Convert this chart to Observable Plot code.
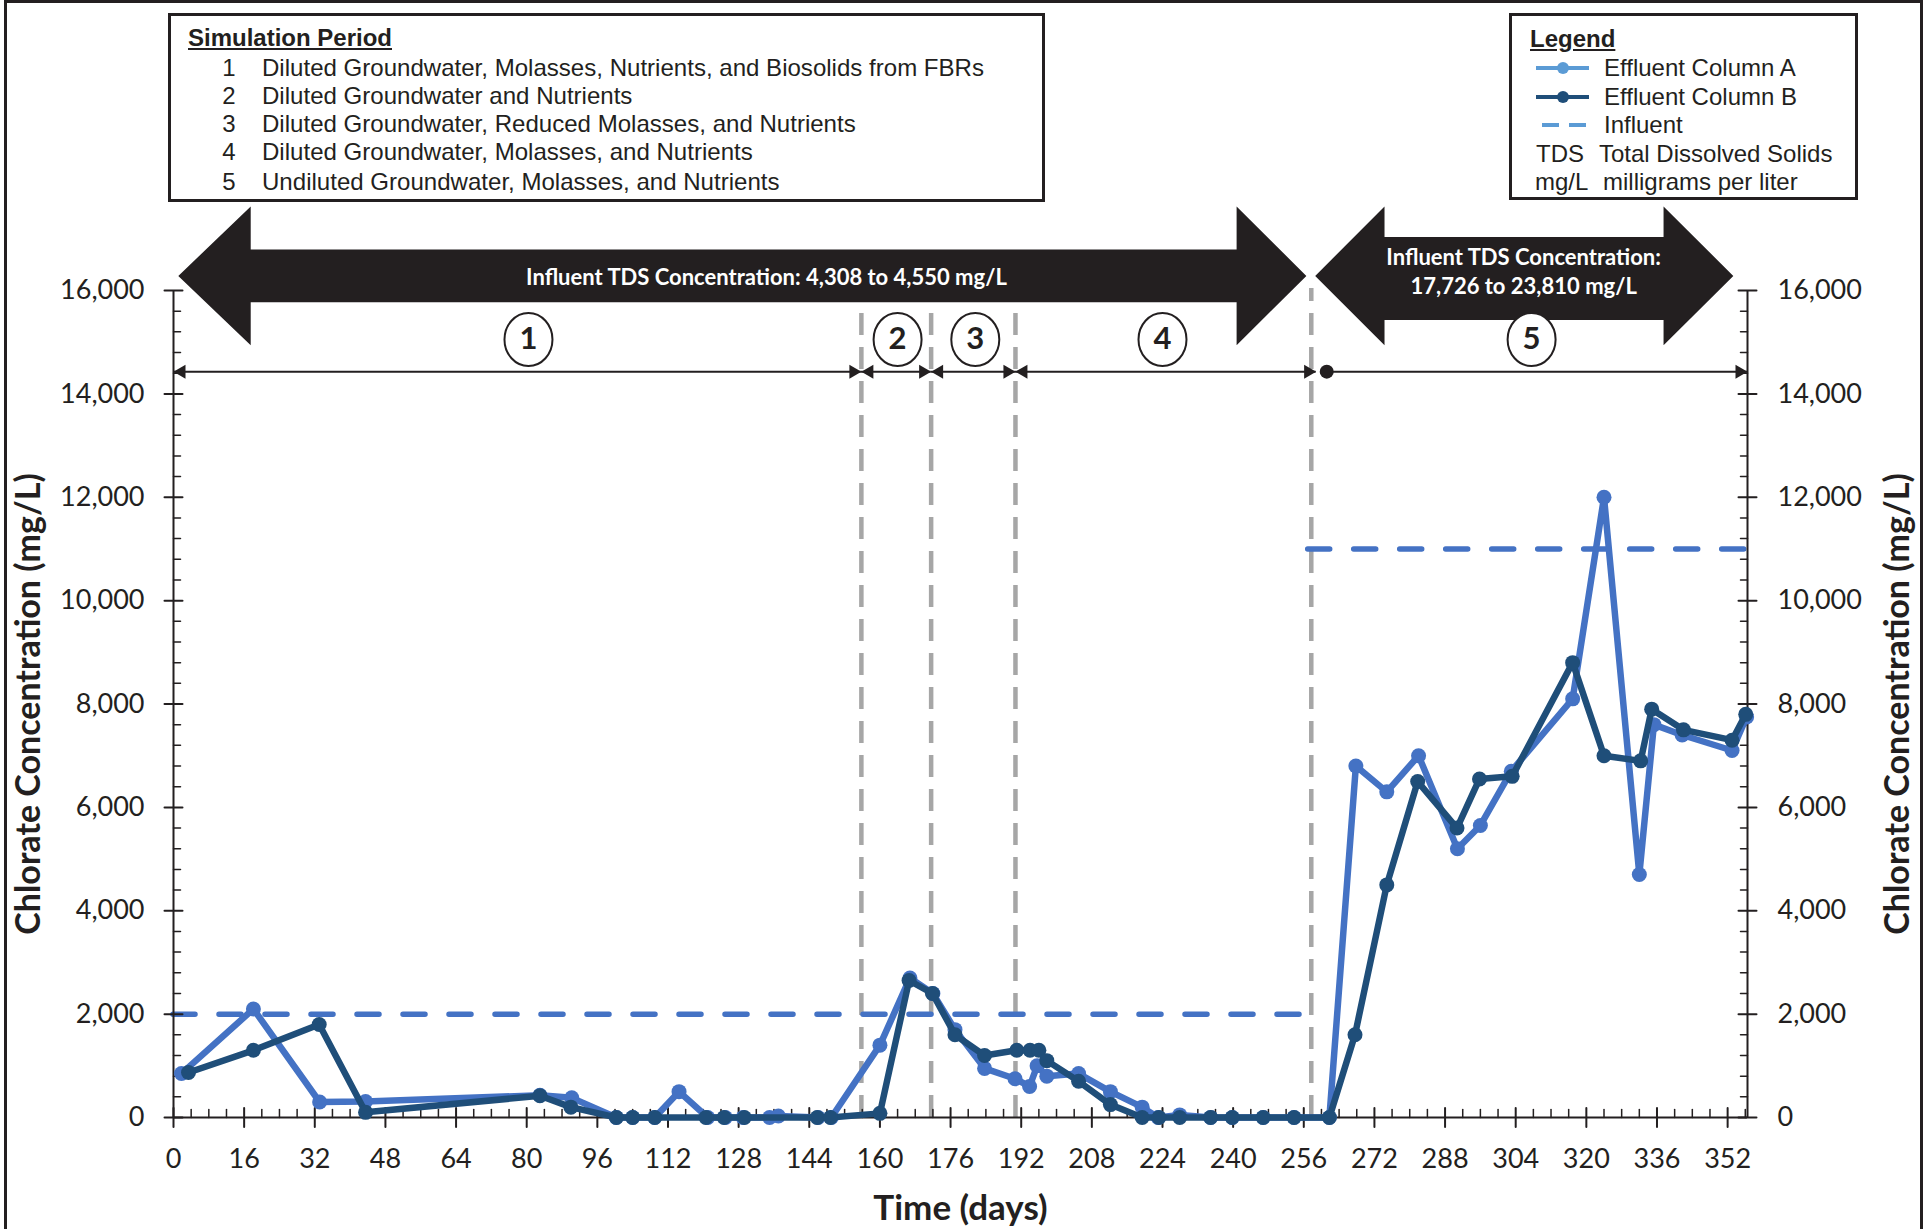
<!DOCTYPE html>
<html>
<head>
<meta charset="utf-8">
<script src="https://cdn.jsdelivr.net/npm/d3@7"></script>
<script src="https://cdn.jsdelivr.net/npm/@observablehq/plot@0.6"></script>
<style>
html,body{margin:0;padding:0;background:#fff;}
#page{position:relative;width:1927px;height:1229px;overflow:hidden;color:#231F20;}
#frame{position:absolute;left:4px;top:0;width:1919px;height:1260px;border:3px solid #231F20;box-sizing:border-box;}
#chart{position:absolute;left:0;top:200px;}
.box{position:absolute;border:3px solid #231F20;box-sizing:border-box;background:#fff;z-index:2;}
.row{position:absolute;height:28px;line-height:28px;white-space:nowrap;font-size:24px;}
.narrow{font-family:"Liberation Sans Narrow","Arial Narrow","Liberation Sans",Arial,sans-serif;}
.sans{font-family:"Liberation Sans",Arial,sans-serif;}
.hdr{font-weight:bold;text-decoration:underline;}
.hdr .sc{text-decoration:underline;}
.sc{display:inline-block;transform-origin:0 50%;}
</style>
</head>
<body>
<div id="page">
  <div id="frame"></div>
  <div id="chart"></div>
  <div id="sim" class="box narrow" style="left:168px;top:13px;width:877px;height:189px;"></div>
  <div id="legend" class="box sans" style="left:1509px;top:13px;width:349px;height:187px;"></div>
</div>
<script>
// ---------------- data ----------------
const dayA  = [1.8, 18.1, 33.1, 43.5, 83, 90.2, 100.3, 104, 109, 114.5, 121, 125, 129, 135, 137, 146, 149, 160, 166.8, 172, 177, 183.7, 190.6, 193.9, 195.6, 197.8, 205, 212.2, 219.4, 223, 227.9, 234.9, 239.8, 246.8, 253.8, 261.8, 267.8, 274.8, 282, 290.8, 296, 303, 316.9, 324, 332, 335.3, 341.7, 353, 356.3];
const concA = [850, 2100, 300, 310, 430, 380, 0, 0, 0, 500, 0, 0, 0, 0, 30, 0, 0, 1400, 2700, 2400, 1700, 950, 750, 600, 1000, 800, 850, 500, 200, 0, 50, 0, 0, 0, 0, 0, 6800, 6300, 7000, 5200, 5650, 6700, 8100, 12000, 4700, 7600, 7400, 7100, 7750];
const dayB  = [3.4, 18.1, 33, 43.5, 83, 90, 100.3, 104, 109, 120.6, 124.7, 129.3, 145.8, 148.8, 160, 166.6, 171.9, 177, 183.7, 191, 194, 196, 197.8, 205, 212.2, 219.4, 223.2, 227.9, 234.9, 239.8, 246.8, 253.8, 261.8, 267.6, 274.8, 281.8, 290.7, 295.8, 303.2, 316.9, 324, 332.3, 334.8, 342, 353, 356.1];
const concB = [870, 1300, 1800, 100, 420, 200, 0, 0, 0, 0, 0, 0, 0, 0, 80, 2650, 2400, 1600, 1200, 1300, 1300, 1300, 1100, 700, 250, 0, 0, 0, 0, 0, 0, 0, 0, 1600, 4500, 6500, 5600, 6550, 6600, 8800, 7000, 6900, 7900, 7500, 7300, 7800];

const influentStart = [0, 257];
const influentEnd   = [258, 356.5];
const influentConc  = [2000, 11000];

const xTicks = d3.range(0, 353, 16);
const xMinorTicks = d3.range(0, 357, 4).filter(d => d % 16 !== 0);
const yTicks = d3.range(0, 16001, 2000);
const yMinorTicks = d3.range(0, 16001, 400).filter(d => d % 2000 !== 0);

const periodNumbers = ["1", "2", "3", "4", "5"];
const periodDescriptions = [
  "Diluted Groundwater, Molasses, Nutrients, and Biosolids from FBRs",
  "Diluted Groundwater and Nutrients",
  "Diluted Groundwater, Reduced Molasses, and Nutrients",
  "Diluted Groundwater, Molasses, and Nutrients",
  "Undiluted Groundwater, Molasses, and Nutrients"
];
const periodStart = [0, 155.8, 171.6, 190.7, 261.2];
const periodEnd   = [155.8, 171.6, 190.7, 258.8, 356.5];
const periodLabelX = [80.4, 164, 181.6, 224, 307.6];
const boundaryDays = [155.8, 171.6, 190.7, 257.7];
const boundaryTop  = [15710, 15710, 15710, 16040];

const tdsText = ["Influent TDS Concentration: 4,308 to 4,550 mg/L", "Influent TDS Concentration:\n17,726 to 23,810 mg/L"];
const tdsTipLeft   = [1.2, 258.7];
const tdsBaseLeft  = [17.6, 274.4];
const tdsBaseRight = [240.9, 337.6];
const tdsTipRight  = [256.7, 353.4];
const tdsShaftTop    = [16783, 17027];
const tdsShaftBottom = [15762, 15421];
const tdsTextX = [134.3, 305.8];
const tdsTextY = [16290, 16387];

const legendLabels = ["Effluent Column A", "Effluent Column B", "Influent"];
const abbrevs = ["TDS", "mg/L"];
const abbrevMeanings = ["Total Dissolved Solids", "milligrams per liter"];

// ---------------- styles ----------------
const ink = "#231F20";
const colA = "#4472C4", colB = "#1F4E79", gray = "#A6A6A6";
const legA = "#5B9BD5";
const headTop = 17615, headBottom = 14930, tipY = 16272;
const periodLineY = 14430, periodLabelY = 15052;

const seriesA = dayA.map((d, i) => ({day: d, conc: concA[i]}));
const seriesB = dayB.map((d, i) => ({day: d, conc: concB[i]}));
const influent = influentConc.map((c, i) => ({x1: influentStart[i], x2: influentEnd[i], y: c}));
const periods = periodNumbers.map((n, i) => ({n, start: periodStart[i], end: periodEnd[i], lx: periodLabelX[i]}));
const boundaries = boundaryDays.map((d, i) => ({x: d, top: boundaryTop[i]}));

const arrowPoly = [];
tdsText.forEach((t, k) => {
  const pts = [
    [tdsTipLeft[k], tipY, tipY],
    [tdsBaseLeft[k], headBottom, headTop],
    [tdsBaseLeft[k], tdsShaftBottom[k], tdsShaftTop[k]],
    [tdsBaseRight[k], tdsShaftBottom[k], tdsShaftTop[k]],
    [tdsBaseRight[k], headBottom, headTop],
    [tdsTipRight[k], tipY, tipY]
  ];
  pts.forEach(p => arrowPoly.push({k, x: p[0], lo: p[1], hi: p[2]}));
});
const tdsLabels = tdsText.map((t, i) => ({t, x: tdsTextX[i], y: tdsTextY[i]}));

const tickShape = {draw(ctx, l) { ctx.moveTo(0, 0); ctx.lineTo(0, -l); }};
const tipLeft = {draw(ctx) { ctx.moveTo(0, 0); ctx.lineTo(12, -7); ctx.lineTo(12, 7); ctx.closePath(); }};
const tipRight = {draw(ctx) { ctx.moveTo(0, 0); ctx.lineTo(-12, -7); ctx.lineTo(-12, 7); ctx.closePath(); }};
const ellipse = {draw(ctx) {
  const a = 24, b = 26.5, k = 0.5523;
  ctx.moveTo(a, 0);
  ctx.bezierCurveTo(a, k * b, k * a, b, 0, b);
  ctx.bezierCurveTo(-k * a, b, -a, k * b, -a, 0);
  ctx.bezierCurveTo(-a, -k * b, -k * a, -b, 0, -b);
  ctx.bezierCurveTo(k * a, -b, a, -k * b, a, 0);
  ctx.closePath();
}};

const xMax = 356.5;

const chart = Plot.plot({
  width: 1927,
  height: 1029,
  marginTop: 90,
  marginBottom: 112,
  marginLeft: 173,
  marginRight: 180,
  x: {domain: [0, xMax]},
  y: {domain: [0, 16000]},
  style: {fontFamily: "Lato, 'Open Sans', sans-serif", fontSize: "27px", color: ink, background: "transparent", overflow: "visible"},
  marks: [
    // phase boundaries
    Plot.ruleX(boundaries, {x: "x", y1: () => 0, y2: "top", stroke: gray, strokeWidth: 4.5, strokeDasharray: "22,12"}),
    // influent
    Plot.ruleY(influent, {x1: "x1", x2: "x2", y: "y", stroke: colA, strokeWidth: 5.5, strokeDasharray: "22,24", strokeLinecap: "round"}),
    // axis lines
    Plot.ruleY([0], {x1: 0, x2: xMax, stroke: ink, strokeWidth: 2}),
    Plot.ruleX([0, xMax], {y1: 0, y2: 16000, stroke: ink, strokeWidth: 2}),
    // ticks
    Plot.vector(xTicks, {x: d => d, y: () => 0, length: 19, rotate: 0, anchor: "middle", shape: tickShape, stroke: ink, strokeWidth: 2}),
    Plot.vector(xMinorTicks, {x: d => d, y: () => 0, length: 8, rotate: 0, anchor: "start", shape: tickShape, stroke: ink, strokeWidth: 1.5}),
    Plot.vector(yTicks, {x: () => 0, y: d => d, length: 18, rotate: 90, anchor: "middle", shape: tickShape, stroke: ink, strokeWidth: 2}),
    Plot.vector(yMinorTicks, {x: () => 0, y: d => d, length: 7, rotate: 90, anchor: "start", shape: tickShape, stroke: ink, strokeWidth: 1.5}),
    Plot.vector(yTicks, {x: () => xMax, y: d => d, length: 18, rotate: 90, anchor: "middle", shape: tickShape, stroke: ink, strokeWidth: 2}),
    Plot.vector(yMinorTicks, {x: () => xMax, y: d => d, length: 7, rotate: -90, anchor: "start", shape: tickShape, stroke: ink, strokeWidth: 1.5}),
    Plot.axisX({ticks: xTicks, tickSize: 0, tickPadding: 31, tickFormat: d => String(d), label: null}),
    Plot.axisY({anchor: "left", ticks: yTicks, tickSize: 0, tickPadding: 29, tickFormat: d3.format(","), label: null}),
    Plot.axisY({anchor: "right", ticks: yTicks, tickSize: 0, tickPadding: 30, tickFormat: d3.format(","), label: null}),
    // data
    Plot.line(seriesA, {x: "day", y: "conc", stroke: colA, strokeWidth: 6.5, strokeLinejoin: "round"}),
    Plot.dot(seriesA, {x: "day", y: "conc", r: 7.5, fill: colA}),
    Plot.line(seriesB, {x: "day", y: "conc", stroke: colB, strokeWidth: 6.5, strokeLinejoin: "round"}),
    Plot.dot(seriesB, {x: "day", y: "conc", r: 7.5, fill: colB}),
    // TDS arrows
    Plot.areaY(arrowPoly, {x: "x", y1: "lo", y2: "hi", z: "k", fill: ink, curve: "linear"}),
    Plot.text(tdsLabels, {x: "x", y: "y", text: "t", fill: "white", fontWeight: "bold", fontSize: 22, lineHeight: 1.3}),
    // period arrows
    Plot.ruleY(periods, {x1: "start", x2: "end", y: () => periodLineY, stroke: ink, strokeWidth: 2}),
    Plot.dot(periods.slice(0, 4), {x: "start", y: () => periodLineY, symbol: tipLeft, fill: ink, r: 7}),
    Plot.dot(periods, {x: "end", y: () => periodLineY, symbol: tipRight, fill: ink, r: 7}),
    Plot.dot(periods.slice(4), {x: "start", y: () => periodLineY, r: 7, fill: ink}),
    Plot.dot(periods, {x: "lx", y: () => periodLabelY, symbol: ellipse, fill: "white", stroke: ink, strokeWidth: 2, r: 25}),
    Plot.text(periods, {x: "lx", y: () => periodLabelY, text: "n", fontWeight: "bold", fontSize: 31, fill: ink}),
    // axis titles
    Plot.text(["Chlorate Concentration (mg/L)"], {frameAnchor: "left", textAnchor: "middle", rotate: -90, dx: -144, fontWeight: "bold", fontSize: 34, fill: ink}),
    Plot.text(["Chlorate Concentration (mg/L)"], {frameAnchor: "right", textAnchor: "middle", rotate: -90, dx: 151, fontWeight: "bold", fontSize: 34, fill: ink}),
    Plot.text(["Time (days)"], {frameAnchor: "bottom", dy: 102, fontWeight: "bold", fontSize: 35, fill: ink})
  ]
});
document.getElementById("chart").appendChild(chart);

// ---------------- boxes ----------------
const sim = document.getElementById("sim");
const simCenters = [67.6, 95.9, 124, 152.4, 182];
function row(parent, cls, left, center, html) {
  const d = document.createElement("div");
  d.className = "row " + cls;
  d.style.left = left + "px";
  d.style.top = (center - 13 - 3 - 14) + "px";
  d.innerHTML = html;
  parent.appendChild(d);
  return d;
}
const simHdr = row(sim, "hdr", 17, 38, '<span class="sc">Simulation Period</span>');
const descSpans = [];
periodNumbers.forEach((n, i) => {
  const nd = row(sim, "", 43, simCenters[i], n);
  nd.style.width = "30px"; nd.style.textAlign = "center";
  const dd = row(sim, "", 91, simCenters[i], '<span class="sc">' + periodDescriptions[i] + '</span>');
  descSpans.push(dd.firstChild);
});

const leg = document.getElementById("legend");
const legCenters = [68, 97, 125, 154, 182];
row(leg, "hdr", 18, 39, "Legend");
legendLabels.forEach((lab, i) => {
  const icon = row(leg, "", 23, legCenters[i], "");
  icon.style.width = "56px";
  const c = i === 1 ? colB : legA;
  icon.innerHTML = i < 2
    ? `<svg width="56" height="28"><line x1="1" x2="54" y1="14" y2="14" stroke="${c}" stroke-width="4"/><circle cx="28" cy="14" r="6" fill="${c}"/></svg>`
    : `<svg width="56" height="28"><line x1="7" x2="51" y1="14" y2="14" stroke="${c}" stroke-width="4" stroke-dasharray="17,10"/></svg>`;
  row(leg, "", 92, legCenters[i], lab);
});
abbrevs.forEach((a, i) => {
  row(leg, "", i === 0 ? 24 : 23, legCenters[3 + i], a);
  row(leg, "", i === 0 ? 87 : 91, legCenters[3 + i], abbrevMeanings[i]);
});

function fit() {
  const w0 = descSpans[0].getBoundingClientRect().width;
  const s = 722 / w0;
  descSpans.forEach(sp => sp.style.transform = `scaleX(${s})`);
  const hs = simHdr.firstChild;
  const hw = hs.getBoundingClientRect().width;
  hs.style.transform = `scaleX(${204 / hw})`;
}
fit();
if (document.fonts && document.fonts.ready) document.fonts.ready.then(() => {
  descSpans.forEach(sp => sp.style.transform = "");
  simHdr.firstChild.style.transform = "";
  fit();
});
</script>
</body>
</html>
